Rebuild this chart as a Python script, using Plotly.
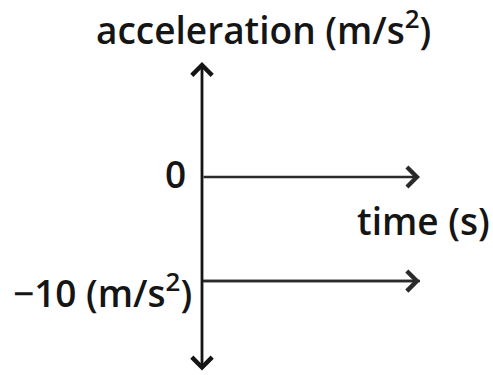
import plotly.graph_objects as go

# ---- data ----
time_s = [0, 10]                 # time (s)
acceleration = [-10, -10]        # acceleration (m/s^2), constant
axis_title_y = "acceleration (m/s<sup>2</sup>)"
axis_title_x = "time (s)"
tick_zero = "0"
tick_value = "−10 (m/s<sup>2</sup>)"
y_axis_top = 11.06
y_axis_bottom = -18.75

# ---- layout geometry (pixels) ----
W, H = 493, 375
X0_PX, XT_PX = 202, 420          # t=0 and t=10 positions
Y0_PX, Y10_PX = 177, 281         # a=0 and a=-10 positions
px_per_t = (XT_PX - X0_PX) / (time_s[-1] - time_s[0])
px_per_a = (Y10_PX - Y0_PX) / 10.0
x_range = [-X0_PX / px_per_t, (W - X0_PX) / px_per_t]
y_range = [-(H - Y0_PX) / px_per_a, Y0_PX / px_per_a]

INK = "#151515"
LINE = "#2a2a2a"
FONT = dict(family="Open Sans", size=37, color=INK, weight=600)

fig = go.Figure()

# data line: constant acceleration of -10 m/s^2
fig.add_trace(go.Scatter(
    x=time_s, y=acceleration, mode="lines",
    line=dict(color=LINE, width=2.5), hoverinfo="skip", showlegend=False,
))

annotations = [
    # vertical (acceleration) axis, arrows at both ends
    dict(x=0, y=y_axis_top, ax=0, ay=y_axis_bottom, xref="x", yref="y",
         axref="x", ayref="y", text="", showarrow=True, arrowside="end+start",
         arrowhead=4, startarrowhead=4, arrowwidth=2.8, arrowsize=1.4,
         startarrowsize=1.4, arrowcolor=INK),
    # horizontal (time) axis at a = 0
    dict(x=time_s[-1], y=0, ax=time_s[0], ay=0, xref="x", yref="y",
         axref="x", ayref="y", text="", showarrow=True,
         arrowhead=4, arrowwidth=2.4, arrowsize=1.6, arrowcolor=LINE),
    # arrowhead at end of data line
    dict(x=time_s[-1], y=acceleration[-1], ax=time_s[0], ay=acceleration[0],
         xref="x", yref="y", axref="x", ayref="y", text="", showarrow=True,
         arrowhead=4, arrowwidth=2.5, arrowsize=1.55, arrowcolor=LINE),
    # labels
    dict(x=263 / W, y=1 - 28 / H, xref="paper", yref="paper", text=axis_title_y,
         showarrow=False, xanchor="center", yanchor="middle", font=FONT),
    dict(x=175 / W, y=1 - 173 / H, xref="paper", yref="paper", text=tick_zero,
         showarrow=False, xanchor="center", yanchor="middle", font=FONT),
    dict(x=355 / W, y=1 - 220 / H, xref="paper", yref="paper", text=axis_title_x,
         showarrow=False, xanchor="left", yanchor="middle", font=FONT),
    dict(x=194 / W, y=1 - 290 / H, xref="paper", yref="paper", text=tick_value,
         showarrow=False, xanchor="right", yanchor="middle", font=FONT),
]

fig.update_layout(
    width=W, height=H,
    margin=dict(l=0, r=0, t=0, b=0),
    paper_bgcolor="white", plot_bgcolor="white",
    xaxis=dict(range=x_range, visible=False, fixedrange=True),
    yaxis=dict(range=y_range, visible=False, fixedrange=True),
    annotations=annotations,
    showlegend=False,
)

fig.write_html(
    "out.html",
    config={"displayModeBar": False},
    post_script="document.body.style.margin='0';document.body.style.overflow='hidden';",
)
